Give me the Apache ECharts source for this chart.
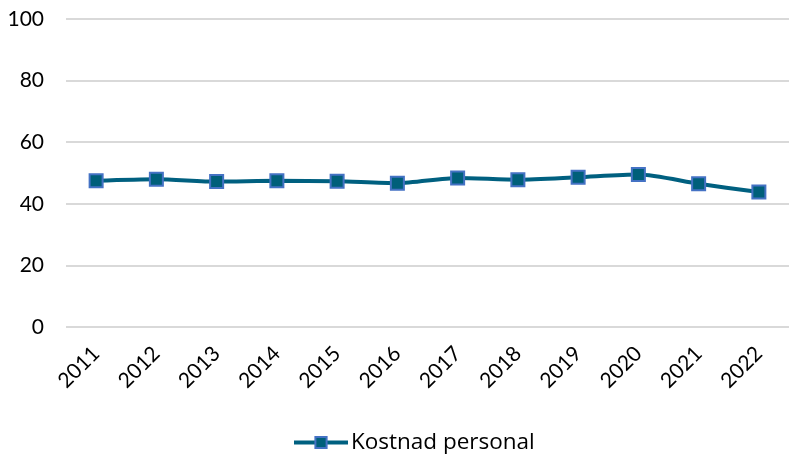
<!DOCTYPE html>
<html>
<head>
<meta charset="utf-8">
<script src="https://cdn.jsdelivr.net/npm/echarts@6/dist/echarts.min.js"></script>
<style>
  html, body { margin: 0; padding: 0; background: #fff; }
  #main { width: 789px; height: 455px; }
</style>
</head>
<body>
<div id="main"></div>
<script>
const years = ['2011', '2012', '2013', '2014', '2015', '2016', '2017', '2018', '2019', '2020', '2021', '2022'];
const kostnadPersonal = [47.5, 48.0, 47.2, 47.5, 47.3, 46.7, 48.4, 47.8, 48.6, 49.5, 46.5, 43.8];
const seriesName = 'Kostnad personal';

let chart = echarts.init(document.getElementById('main'));
const font = 'Lato, "Open Sans", sans-serif';

let option = {
  animation: false,
  textStyle: { fontFamily: font },
  grid: { left: 66, top: 19, width: 730, height: 308, containLabel: false },
  legend: {
    top: 426,
    left: 287,
    itemWidth: 54,
    itemHeight: 14,
    itemGap: 6,
    lineStyle: { width: 4 },
    textStyle: { fontSize: 22.5, color: '#000', fontFamily: '"Open Sans", sans-serif', padding: [0, 0, 0, -2] },
    data: [seriesName]
  },
  xAxis: {
    type: 'category',
    data: years,
    boundaryGap: true,
    axisLine: { show: false },
    axisTick: { show: false },
    axisLabel: { rotate: 45, fontSize: 21, color: '#000', margin: 23, fontFamily: font }
  },
  yAxis: {
    type: 'value',
    min: 0,
    max: 100,
    interval: 20,
    axisLine: { show: false },
    axisTick: { show: false },
    axisLabel: { fontSize: 21, color: '#000', margin: 22, fontFamily: font },
    splitLine: { lineStyle: { color: '#d9d9d9', width: 2 } }
  },
  series: [{
    name: seriesName,
    type: 'line',
    data: kostnadPersonal,
    smooth: 0.25,
    symbol: 'rect',
    symbolSize: 13,
    lineStyle: { color: '#006080', width: 4 },
    itemStyle: { color: '#005f7a', borderColor: '#4472c4', borderWidth: 2 }
  }]
};

chart.setOption(option);
</script>
</body>
</html>
